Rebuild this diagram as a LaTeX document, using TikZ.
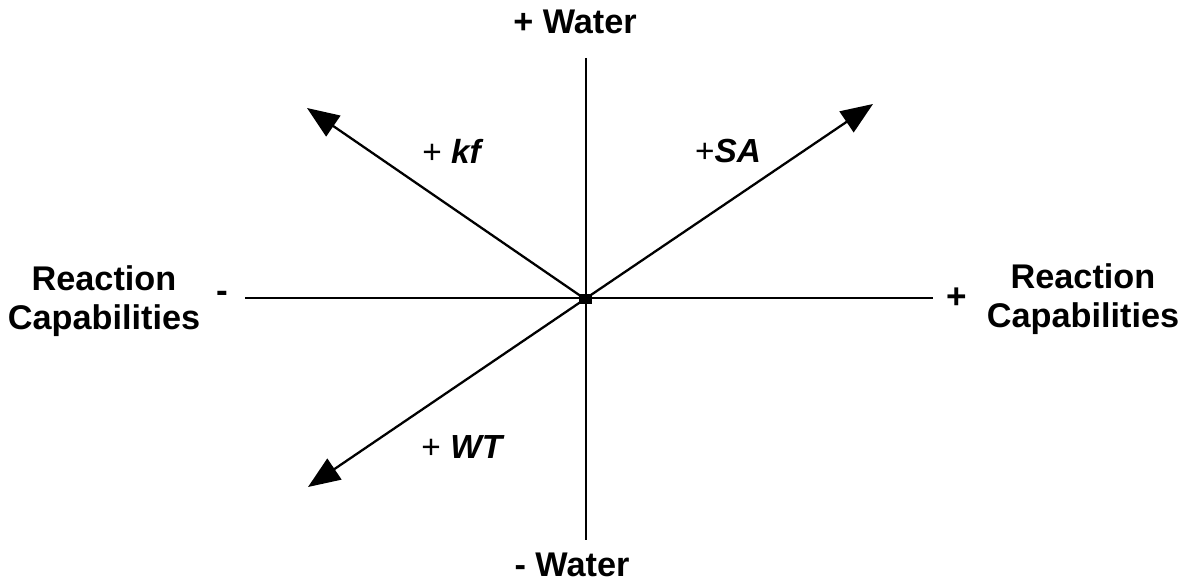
\documentclass[tikz,border=0pt]{standalone}
\usepackage{fontspec}
\setmainfont{Liberation Sans}
\usetikzlibrary{arrows.meta,positioning}

\begin{document}
\begin{tikzpicture}[
        x=0.02cm, y=-0.02cm,
        axis/.style={
          line width=1.5pt,
          black
        },
        arrow/.style={
          -{Triangle[length=6.4mm,width=5mm]},
          line width=1.3pt,
          black
        },
        title/.style={
          font=\fontsize{19.5}{22}\selectfont\bfseries,
          align=center,
          inner sep=0pt
        },
        sign/.style={
          font=\fontsize{20}{22}\selectfont\bfseries,
          inner sep=0pt
        },
        factor/.style={
          font=\fontsize{19}{21}\selectfont,
          inner sep=0pt
        }
      ]

      \useasboundingbox (0,0) rectangle (1191,584);

      % axes
      \node[fill=black, minimum width=0.26cm, minimum height=0.2cm, inner sep=0pt] (origin) at (585,299) {};
      \coordinate (wtop) at (586,58);
      \coordinate (wbot) at (586,540);
      \coordinate (rleft) at (245,298);
      \coordinate (rright) at (933,298);

      \draw[axis] (wtop) -- (wbot);
      \draw[axis] (rleft) -- (rright);

      % factor arrows
      \coordinate (kftip) at (307,108);
      \coordinate (satip) at (873,104);
      \coordinate (wttip) at (308,487);

      \draw[arrow] (origin.center) -- (kftip);
      \draw[arrow] (origin.center) -- (satip);
      \draw[arrow] (origin.center) -- (wttip);

      % labels
      \node[title] (pluswater) at (575,22) {+ Water};
      \node[title] (minuswater) at (572,565) {- Water};
      \node[title] (reactleft) at (104,301) {Reaction\\Capabilities};
      \node[title] (reactright) at (1083,299) {Reaction\\Capabilities};
      \node[sign] (minus) at (222,297) {-};
      \node[sign] (plus) at (957,298) {+};

      \node[factor] (kf) at (453,151) {+ \textbf{\textit{kf}}};
      \node[factor] (sa) at (728,151) {+\textbf{\textit{SA}}};
      \node[factor] (wt) at (463,447) {+ \textbf{\textit{WT}}};

      \end{tikzpicture}
\end{document}
